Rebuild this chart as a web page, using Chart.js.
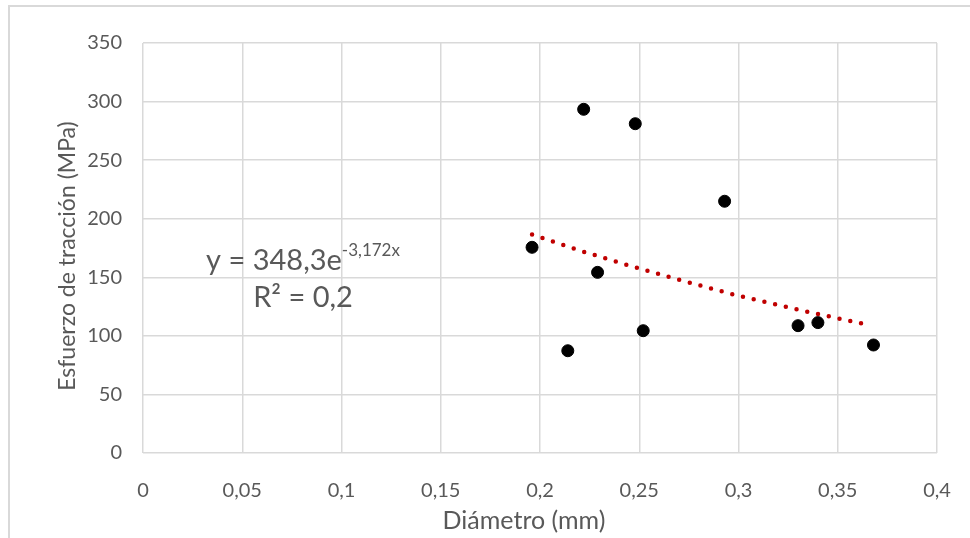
<!DOCTYPE html>
<html lang="es">
<head>
<meta charset="utf-8">
<title>Esfuerzo de tracción vs diámetro</title>
<script src="https://cdn.jsdelivr.net/npm/chart.js@4.4.1/dist/chart.umd.min.js"></script>
<style>
  body { margin: 0; background: #fff; overflow: hidden; }
  #marco {
    position: absolute; left: 8px; top: 5px; width: 1000px; height: 600px;
    border-left: 2px solid #d9d9d9; border-top: 2px solid #d9d9d9;
  }
  #grafico { position: absolute; left: 0; top: 0; }
</style>
</head>
<body>
<div id="marco"></div>
<canvas id="grafico" width="970" height="538"></canvas>
<script>
// ============================
// Datos
// ============================
const diametro = [0.196, 0.214, 0.222, 0.229, 0.248, 0.252, 0.293, 0.330, 0.340, 0.368];
const esfuerzo = [175.6, 87.3, 293.4, 154.2, 281.1, 104.4, 214.9, 108.7, 111.3, 92.2];

// línea de tendencia (puntos leídos sobre la curva punteada)
const tendX = [0.196, 0.2185, 0.241, 0.269, 0.297, 0.332, 0.367];
const tendY = [186.6, 173.6, 162.0, 148.3, 135.5, 121.6, 108.8];

const ticksX = ['0', '0,05', '0,1', '0,15', '0,2', '0,25', '0,3', '0,35', '0,4'];
const ticksY = ['0', '50', '100', '150', '200', '250', '300', '350'];

const tituloX = 'Diámetro (mm)';
const tituloY = 'Esfuerzo de tracción (MPa)';
const ecuacion = ['y = 348,3e', '-3,172x'];
const r2 = 'R² = 0,2';

const gris = '#595959';
const fuente = 'Lato, "Open Sans", sans-serif';

// ============================
// Títulos de ejes y ecuación
// ============================
const textos = {
  id: 'textos',
  afterDraw(chart) {
    const ctx = chart.ctx;
    ctx.save();
    ctx.fillStyle = gris;
    ctx.textBaseline = 'middle';
    ctx.textAlign = 'center';

    // título eje x
    ctx.font = '25px ' + fuente;
    ctx.fillText(tituloX, 524, 521);

    // título eje y (rotado)
    ctx.save();
    ctx.translate(68, 256);
    ctx.rotate(-Math.PI / 2);
    ctx.font = '23px ' + fuente;
    ctx.fillText(tituloY, 0, 0);
    ctx.restore();

    // ecuación de la tendencia
    const cx = 303;
    ctx.textBaseline = 'alphabetic';
    ctx.font = '29px ' + fuente;
    const w1 = ctx.measureText(ecuacion[0]).width;
    ctx.font = '17px ' + fuente;
    const w2 = ctx.measureText(ecuacion[1]).width;
    const x0 = cx - (w1 + w2) / 2;

    ctx.textAlign = 'left';
    ctx.font = '29px ' + fuente;
    ctx.fillText(ecuacion[0], x0, 270);
    ctx.font = '17px ' + fuente;
    ctx.fillText(ecuacion[1], x0 + w1, 256);

    ctx.textAlign = 'center';
    ctx.font = '29px ' + fuente;
    ctx.fillText(r2, cx, 307);
    ctx.restore();
  }
};

const pontos = diametro.map((d, i) => ({ x: d, y: esfuerzo[i] }));
const tendencia = tendX.map((d, i) => ({ x: d, y: tendY[i] }));

const ctx = document.getElementById('grafico').getContext('2d');
new Chart(ctx, {
  type: 'scatter',
  data: {
    datasets: [
      {
        label: 'Tendencia',
        data: tendencia,
        showLine: true,
        borderColor: '#C00000',
        borderWidth: 4.5,
        borderDash: [0, 11],
        borderCapStyle: 'round',
        pointRadius: 0,
        fill: false,
        order: 0
      },
      {
        label: 'Esfuerzo',
        data: pontos,
        backgroundColor: '#000',
        borderColor: '#000',
        borderWidth: 1,
        pointRadius: 6,
        order: 1
      }
    ]
  },
  options: {
    responsive: false,
    animation: false,
    layout: { padding: { left: 53, right: 33, top: 43, bottom: 0 } },
    plugins: {
      legend: { display: false },
      tooltip: { enabled: false }
    },
    scales: {
      x: {
        type: 'linear',
        min: 0,
        max: 0.4,
        afterFit(scale) {
          scale.height = 85;
          scale.paddingLeft = 0;
          scale.paddingRight = 0;
        },
        grid: { color: '#d9d9d9', lineWidth: 1.5, drawTicks: false },
        border: { display: false },
        ticks: {
          stepSize: 0.05,
          padding: 26,
          color: gris,
          font: { family: fuente, size: 20 },
          callback: (v, i) => ticksX[i]
        }
      },
      y: {
        min: 0,
        max: 350,
        afterFit(scale) {
          scale.width = 90;
          scale.paddingTop = 0;
          scale.paddingBottom = 0;
        },
        grid: { color: '#d9d9d9', lineWidth: 1.5, drawTicks: false },
        border: { display: false },
        ticks: {
          stepSize: 50,
          padding: 21,
          color: gris,
          font: { family: fuente, size: 20 },
          callback: (v, i) => ticksY[i]
        }
      }
    }
  },
  plugins: [textos]
});
</script>
</body>
</html>
